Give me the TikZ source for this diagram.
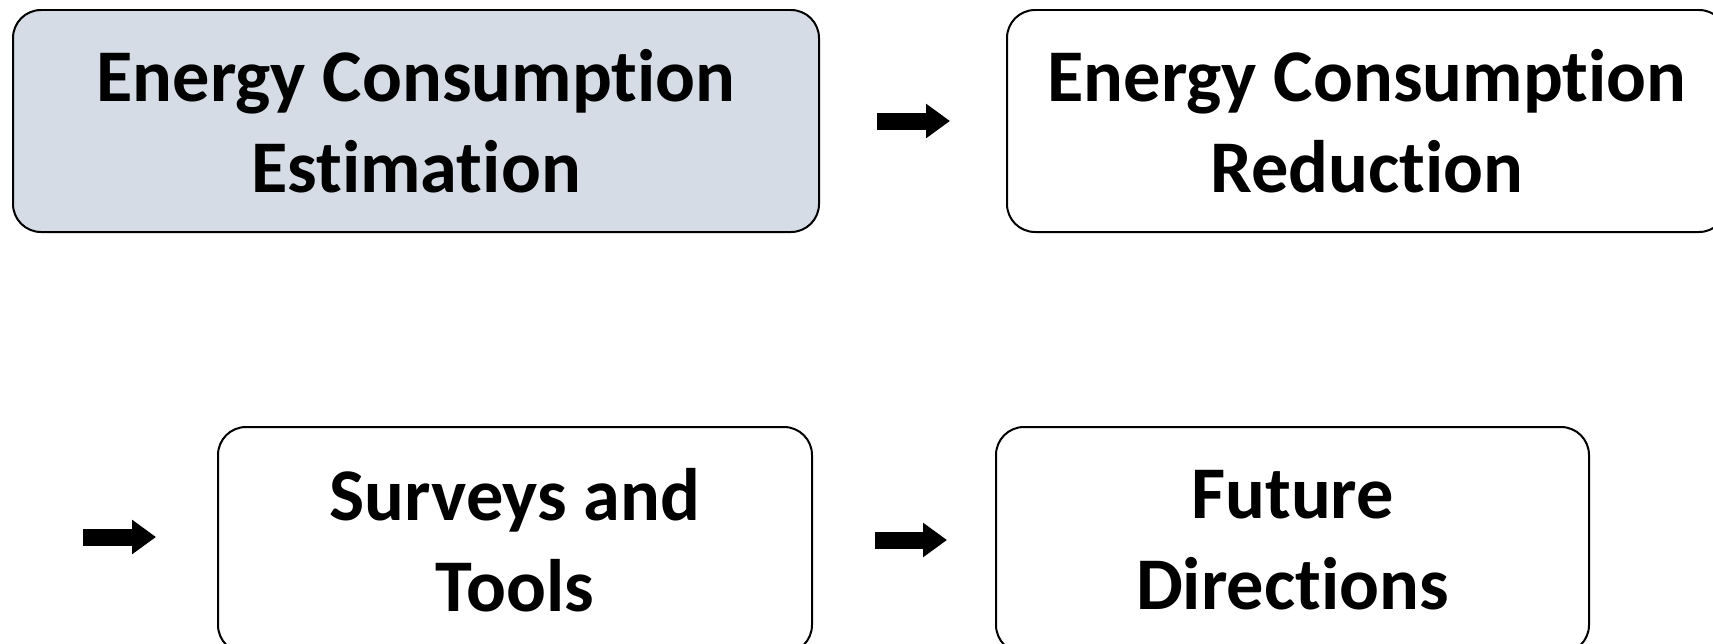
\documentclass[tikz,border=0pt]{standalone}
\usepackage{fontspec}
\setmainfont[Ligatures=NoCommon]{Carlito}
\usepackage{tikz}
\usetikzlibrary{positioning,arrows.meta}
\definecolor{estfill}{HTML}{D6DCE5}

\begin{document}
\begin{tikzpicture}[node distance=3.72cm,
			box/.style={draw, rounded corners=0.56cm, line width=0.04cm, minimum height=4.44cm, inner sep=0pt, align=center, font=\fontsize{42.3}{52}\selectfont\bfseries},
			arrow/.style={-{Triangle[length=0.48cm, width=0.66cm]}, line width=0.34cm}]
			
			\fill[white] (0,0) rectangle (34.26,12.86);
			\useasboundingbox (0,0) rectangle (34.26,12.86);
			
			\node[box, fill=estfill, minimum width=16.12cm] (est) at (8.32,10.44) {Energy Consumption\\Estimation};
			\node[box, minimum width=14.40cm, right=of est] (red) {Energy Consumption\\Reduction};
			\node[box, minimum width=11.88cm, minimum height=4.52cm] (tools) at (10.30,2.06) {Surveys and\\Tools};
			\node[box, minimum width=11.86cm, minimum height=4.52cm, right=3.64cm of tools] (future) {Future\\Directions};
			\coordinate (wrap) at (1.66,2.12);
			
			\draw[arrow, shorten <=1.14cm, shorten >=1.12cm] (est) -- (red);
			\draw[arrow, shorten >=1.22cm] (wrap) -- (wrap -| tools.west);
			\draw[arrow, shorten <=1.24cm, shorten >=0.96cm] (tools) -- (future);
			
		\end{tikzpicture}
\end{document}
